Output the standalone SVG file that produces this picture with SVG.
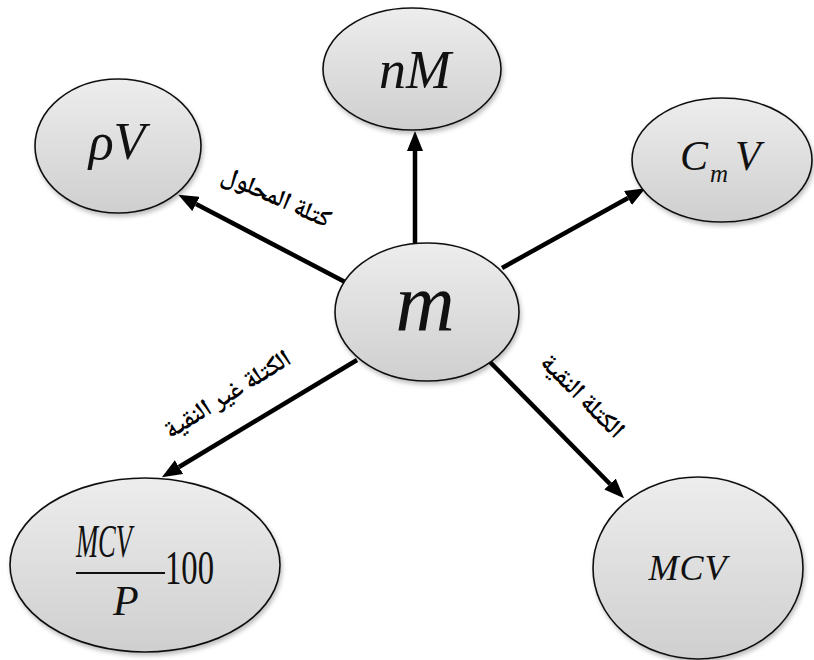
<svg xmlns="http://www.w3.org/2000/svg" width="814" height="660" viewBox="0 0 814 660">
  <defs>
    <linearGradient id="fillGrad" x1="0" y1="0" x2="0" y2="1">
      <stop offset="0" stop-color="#ededed"/>
      <stop offset="1" stop-color="#cfcfcf"/>
    </linearGradient>
    <filter id="shadow" x="-10%" y="-10%" width="125%" height="130%">
      <feDropShadow dx="1.5" dy="3" stdDeviation="2" flood-color="#000" flood-opacity="0.25"/>
    </filter>
    <marker id="arrow" markerUnits="userSpaceOnUse" markerWidth="20" markerHeight="16" refX="0" refY="8" orient="auto">
      <path d="M0,0 L20,8 L0,16 z" fill="#000"/>
    </marker>
    <style>
      .node { fill: url(#fillGrad); stroke: #111; stroke-width: 1.6; filter: url(#shadow); }
      .math { font-family: "Liberation Serif", "Times New Roman", serif; font-style: italic; fill: #111; }
      .num { font-family: "Liberation Serif", "Times New Roman", serif; fill: #111; }
      .edge { stroke: #000; stroke-width: 4.5; fill: none; marker-end: url(#arrow); }
      .lbl { font-family: "Noto Naskh Arabic", "DejaVu Sans", sans-serif; font-size: 25px; font-weight: bold; fill: #000; dominant-baseline: middle; }
    </style>
  </defs>
  <rect width="814" height="660" fill="#fff"/>

  <g id="connectors">
    <line class="edge" x1="415" y1="243" x2="415" y2="151"/>
    <line class="edge" x1="347" y1="283" x2="196" y2="204"/>
    <line class="edge" x1="502" y1="268" x2="628" y2="198"/>
    <line class="edge" x1="357" y1="360" x2="179" y2="467"/>
    <line class="edge" x1="490" y1="362" x2="610" y2="484"/>
  </g>

  <g id="node-nM">
    <ellipse class="node" cx="412" cy="69" rx="89" ry="61"/>
    <text class="math" x="415" y="88" font-size="54" text-anchor="middle">nM</text>
  </g>

  <g id="node-rhoV">
    <ellipse class="node" cx="118" cy="146" rx="83" ry="67"/>
    <text class="math" x="117" y="159" font-size="52" text-anchor="middle">ρV</text>
  </g>

  <g id="node-CmV">
    <ellipse class="node" cx="722" cy="160" rx="90" ry="62"/>
    <text class="math" x="680" y="170" font-size="42">C</text>
    <text class="math" x="710" y="182" font-size="25">m</text>
    <text class="math" x="735" y="170" font-size="42">V</text>
  </g>

  <g id="node-m">
    <ellipse class="node" cx="427" cy="312" rx="92" ry="69"/>
    <text class="math" x="425" y="330" font-size="82" text-anchor="middle">m</text>
  </g>

  <g id="node-impure">
    <ellipse class="node" cx="145" cy="565" rx="135" ry="87"/>
    <text class="math" x="76" y="557" font-size="46" textLength="56" lengthAdjust="spacingAndGlyphs">MCV</text>
    <line x1="76" y1="573" x2="165" y2="573" stroke="#111" stroke-width="2"/>
    <text class="num" x="165" y="584" font-size="48" textLength="49" lengthAdjust="spacingAndGlyphs">100</text>
    <text class="math" x="113" y="615" font-size="42">P</text>
  </g>

  <g id="node-pure">
    <ellipse class="node" cx="698" cy="568" rx="105" ry="91"/>
    <text class="math" x="688" y="580" font-size="36" text-anchor="middle" letter-spacing="1">MCV</text>
  </g>

  <g id="labels">
    <text class="lbl" transform="translate(276,198) rotate(24)" text-anchor="middle">كتلة المحلول</text>
    <text class="lbl" transform="translate(228,395) rotate(-32)" text-anchor="middle" font-size="28">الكتلة غير النقية</text>
    <text class="lbl" transform="translate(582,397) rotate(45)" text-anchor="middle">الكتلة النقية</text>
  </g>
</svg>
